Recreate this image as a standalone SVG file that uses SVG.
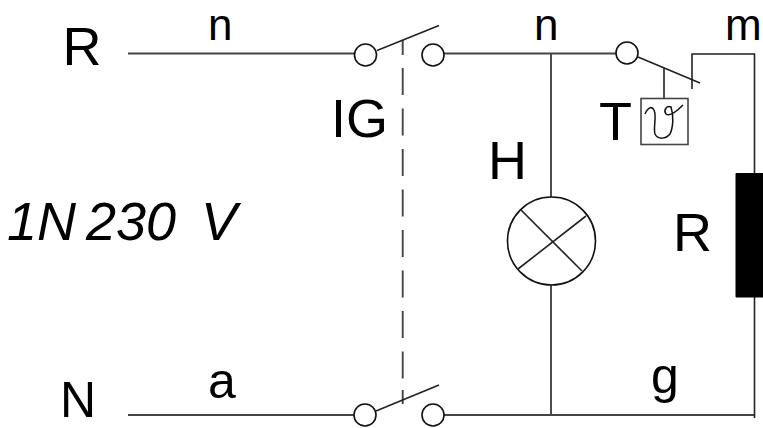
<svg xmlns="http://www.w3.org/2000/svg" width="763" height="428" viewBox="0 0 763 428">
<style>
.w{fill:none;stroke:#444;stroke-width:1.9}
.b{fill:none;stroke:#222;stroke-width:1.6}
.c{fill:#fff;stroke:#111;stroke-width:1.6}
.t{font-family:"Liberation Sans",Arial,sans-serif;font-size:54px;fill:#000}
.s{font-size:50px}
.e{font-size:44px}
</style>
<rect width="763" height="428" fill="#fff"/>
<g id="connectors">
<path class="w" d="M128 53.500H354M444 53.500H616M128 415H354M444 415H754M551 54V197M551 285V415"/>
<path class="b" d="M692 89V54H754.500V173M754.500 297V418"/>
<path class="w" stroke-dasharray="27 13.500" d="M402.700 68V379"/>
<path class="w" d="M402.700 40V55M402.700 390V404"/>
</g>
<g id="switch-top"><circle class="c" cx="365.500" cy="55" r="11"/><circle class="c" cx="433" cy="55" r="11"/><path class="b" d="M377 50.500L439 25.500"/></g>
<g id="switch-bottom"><circle class="c" cx="365" cy="415" r="11"/><circle class="c" cx="433" cy="415" r="11"/><path class="b" d="M376 411L439 385"/></g>
<g id="thermostat"><circle class="c" cx="627" cy="53" r="11"/><path class="b" d="M638 57L700 83M664 68V98"/><rect x="641" y="98.500" width="47" height="46" fill="#fff" stroke="#444" stroke-width="1.600"/><path fill="none" stroke="#111" stroke-width="1.500" d="M645 114C648 107 652 106 654 110C657 116 653 128 655 134C658 140 666 139 670 134C673 128 674 116 671 107C667 105 663 110 666 114C670 117 678 110 683 105"/></g>
<g id="lamp"><circle class="c" cx="551.500" cy="241" r="44"/><path class="b" d="M521 210L582 271M586 216L518 269"/></g>
<g id="resistor"><rect x="735.500" y="173" width="28" height="124.500" rx="1" fill="#000"/></g>
<g id="labels">
<text class="t" x="62.500" y="65">R</text>
<text class="t s" x="60" y="417">N</text>
<text class="t e" x="208" y="40">n</text>
<text class="t e" x="534" y="40">n</text>
<text class="t e" x="725" y="40">m</text>
<text class="t s" x="208" y="398">a</text>
<text class="t s" x="651" y="393">g</text>
<text class="t" x="331" y="137">IG</text>
<text class="t" x="599" y="140">T</text>
<text class="t" x="488" y="179">H</text>
<text class="t" x="673" y="251">R</text>
<text class="t" y="240" font-style="italic"><tspan x="7">1N</tspan> <tspan x="86">230</tspan> <tspan x="201">V</tspan></text>
</g>
</svg>
